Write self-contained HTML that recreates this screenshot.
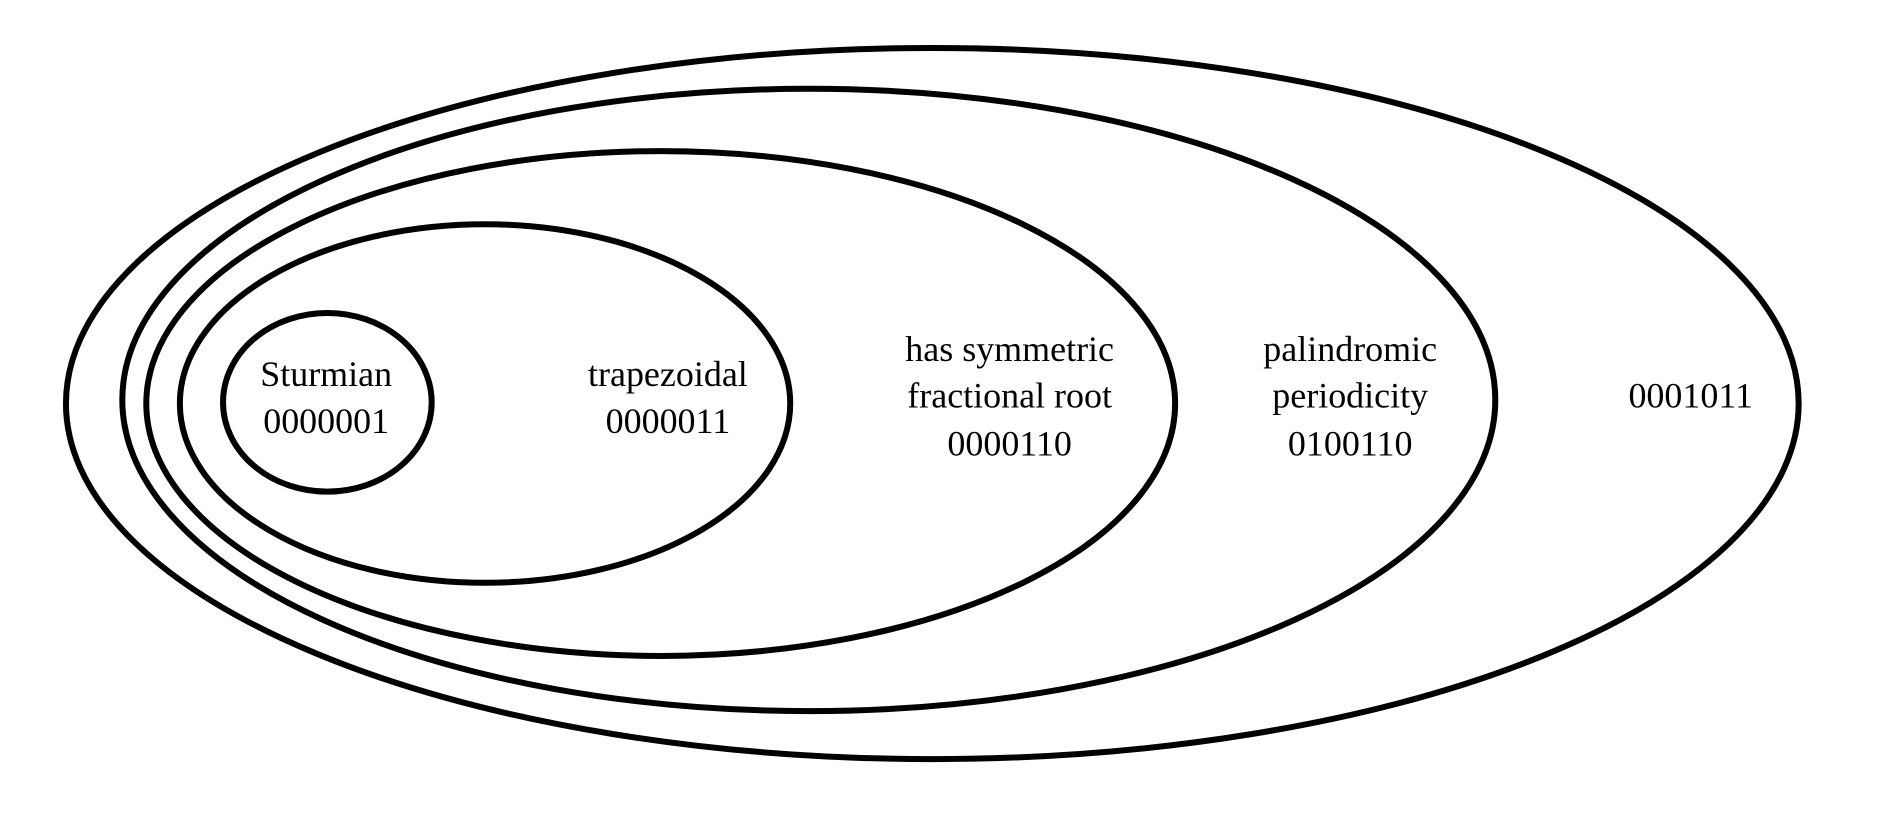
<!DOCTYPE html>
<html><head><meta charset="utf-8"><style>html,body{margin:0;padding:0;background:#fff;}svg{display:block}</style></head>
<body>
<svg width="1879" height="817" viewBox="0 0 1567 681.3" preserveAspectRatio="none" xmlns="http://www.w3.org/2000/svg">
<g fill="none" stroke="#000" stroke-width="5">
<ellipse cx="777.5" cy="336.5" rx="722.5" ry="296.5"/>
<ellipse cx="674.5" cy="333.5" rx="572.5" ry="259.5"/>
<ellipse cx="551" cy="336.5" rx="429" ry="210.5"/>
<ellipse cx="404.5" cy="336.5" rx="254.5" ry="149.5"/>
<ellipse cx="273" cy="335.5" rx="87" ry="74.5"/>
</g>
<g font-family="'Liberation Serif', serif" font-size="30" text-anchor="middle" fill="#000">
<text x="272" y="322">Sturmian</text>
<text x="272" y="361">0000001</text>
<text x="557" y="322">trapezoidal</text>
<text x="557" y="361">0000011</text>
<text x="842" y="301">has symmetric</text>
<text x="842" y="340">fractional root</text>
<text x="842" y="380">0000110</text>
<text x="1126" y="301">palindromic</text>
<text x="1126" y="340">periodicity</text>
<text x="1126" y="380">0100110</text>
<text x="1410" y="340">0001011</text>
</g>
</svg>
</body></html>
